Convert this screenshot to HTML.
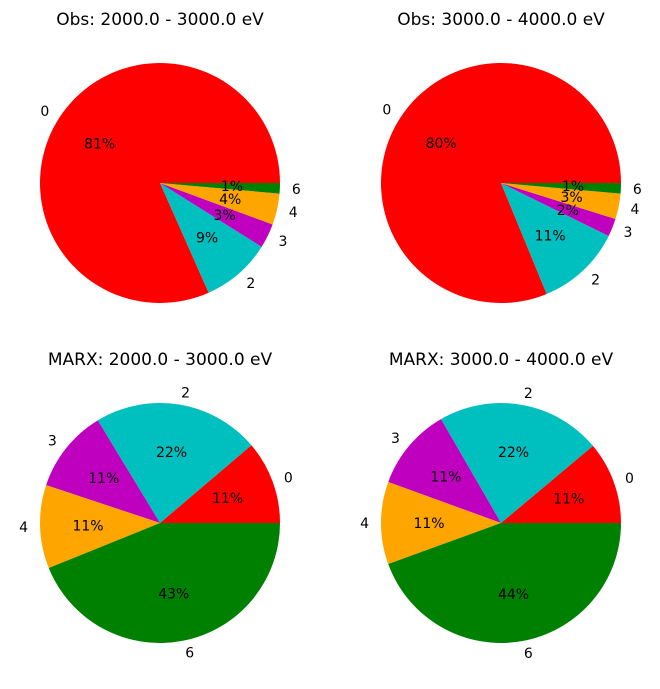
<!DOCTYPE html>
<html><head><meta charset="utf-8"><style>
body{margin:0;background:#fff;}
svg text{font-family:"DejaVu Sans","Liberation Sans",sans-serif;fill:#000;}
</style></head><body>
<svg id="c" width="660" height="684" viewBox="0 0 660 684"></svg>
<script>
const categories = ["0","2","3","4","6"];
const colors = ["#ff0000","#00bfbf","#bf00bf","#ffa500","#008000"];
const titles = ["Obs: 2000.0 - 3000.0 eV","Obs: 3000.0 - 4000.0 eV","MARX: 2000.0 - 3000.0 eV","MARX: 3000.0 - 4000.0 eV"];
const obsLow = [81.4, 9.4, 3.3, 4.2, 1.4];
const obsHigh = [80.4, 11.4, 2.4, 3.4, 1.4];
const marxLow = [11.1, 22.2, 11.1, 11.1, 43.4];
const marxHigh = [11.1, 22.2, 11.1, 11.1, 44.4];
const series = [obsLow, obsHigh, marxLow, marxHigh];
const centers = [[160,183],[501,183],[160,523],[501,523]];
const R = 120;
const svg = document.getElementById('c');
const NS = "http://www.w3.org/2000/svg";
function mk(tag, attrs){const e=document.createElementNS(NS,tag);for(const k in attrs)e.setAttribute(k,attrs[k]);return e;}
function pt(cx,cy,r,a){return [cx+r*Math.cos(a), cy-r*Math.sin(a)];}
series.forEach((vals, p) => {
  const [cx,cy] = centers[p];
  const g = mk('g',{});
  
  
  svg.appendChild(g);
  const t = mk('text',{x:cx,y:cy-158,'text-anchor':'middle','font-size':'17'});
  
  
  t.textContent = titles[p];
  g.appendChild(t);
  const total = vals.reduce((a,b)=>a+b,0);
  let cum = 0;
  vals.forEach((v,i) => {
    const a0 = cum/total*2*Math.PI; cum += v;
    const a1 = cum/total*2*Math.PI;
    const [x0,y0] = pt(cx,cy,R,a0), [x1,y1] = pt(cx,cy,R,a1);
    const large = (a1-a0) > Math.PI ? 1 : 0;
    const path = mk('path',{d:`M${cx},${cy} L${x0},${y0} A${R},${R} 0 ${large} 0 ${x1},${y1} Z`, fill:colors[i]});
    
    
    g.appendChild(path);
  });
  cum = 0;
  vals.forEach((v,i) => {
    const am = (cum + v/2)/total*2*Math.PI; cum += v;
    const [lx,ly] = pt(cx,cy,R*1.1,am);
    const lab = mk('text',{x:lx,y:ly+5,'text-anchor':Math.cos(am)>=0?'start':'end','font-size':'14'});
    
    
    lab.textContent = categories[i];
    g.appendChild(lab);
    const [px,py] = pt(cx,cy,R*0.6,am);
    const pc = mk('text',{x:px,y:py+5,'text-anchor':'middle','font-size':'14'});
    
    
    pc.textContent = Math.round(v)+'%';
    g.appendChild(pc);
  });
});
</script>
</body></html>
